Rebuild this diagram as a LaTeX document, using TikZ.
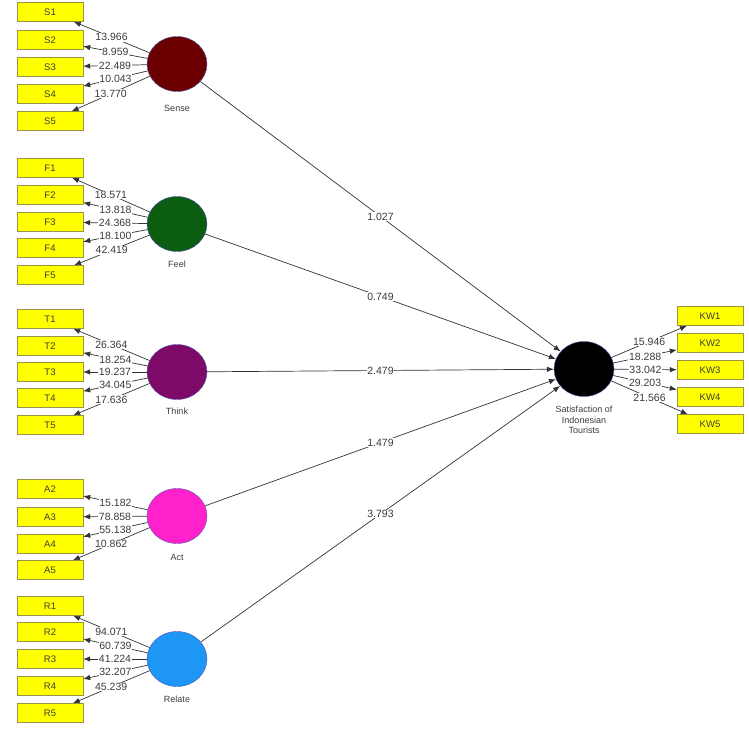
\documentclass[tikz,border=0pt]{standalone}
\usepackage{fontspec}
\setmainfont{Liberation Sans}
\usetikzlibrary{positioning, arrows.meta, shapes.geometric}
\definecolor{senseRed}{HTML}{6B0000}
\definecolor{feelGreen}{HTML}{0B5D12}
\definecolor{thinkPurple}{HTML}{7D0A66}
\definecolor{actPink}{HTML}{FF22CC}
\definecolor{relateBlue}{HTML}{1E96F5}
\definecolor{boxYellow}{HTML}{FFFF00}
\definecolor{txtGray}{HTML}{3C3C3C}

\begin{document}
\begin{tikzpicture}[
    x=1pt, y=-1pt,
    item/.style={rectangle, draw=yellow!55!black, fill=boxYellow, minimum width=66pt, minimum height=19pt, font=\fontsize{9.5}{10}\selectfont, text=txtGray, inner sep=1pt},
    latent/.style={ellipse, draw=blue!35!gray, line width=0.4pt, minimum width=60pt, minimum height=55pt, inner sep=0pt},
    caption/.style={font=\fontsize{9}{10.5}\selectfont, text=txtGray, align=center},
    coef/.style={font=\fontsize{10.5}{11}\selectfont, text=txtGray, fill=white, inner sep=0.6pt},
    arr/.style={-{Latex[length=7pt, width=5.5pt]}, line width=0.7pt, draw=black!80}
]
    \useasboundingbox (0,0) rectangle (749,731);

    % latent variables
    \node[latent, fill=senseRed] (sense) at (177,64) {};
    \node[latent, fill=feelGreen] (feel) at (177,224) {};
    \node[latent, fill=thinkPurple] (think) at (177,372) {};
    \node[latent, fill=actPink] (act) at (177,516) {};
    \node[latent, fill=relateBlue] (relate) at (177,659) {};
    \node[latent, fill=black] (sat) at (584,369) {};
    \node[caption] (senseLbl) at (177,108) {Sense};
    \node[caption] (feelLbl) at (177,264) {Feel};
    \node[caption] (thinkLbl) at (177,411) {Think};
    \node[caption] (actLbl) at (177,557) {Act};
    \node[caption] (relateLbl) at (177,699) {Relate};
    \node[caption] (satLbl) at (584,420) {Satisfaction of\\Indonesian\\Tourists};

    % Sense indicators
    \foreach \i/\y/\v in {1/12/13.966, 2/40/8.959, 3/67/22.489, 4/94/10.043, 5/121/13.770} {
        \node[item] (s\i) at (50,\y) {S\i};
        \draw[arr] (sense) -- node[coef] {\v} (s\i);
    }

    % Feel indicators
    \foreach \i/\y/\v in {1/168/18.571, 2/195/13.818, 3/222/24.368, 4/248/18.100, 5/275/42.419} {
        \node[item] (f\i) at (50,\y) {F\i};
        \draw[arr] (feel) -- node[coef] {\v} (f\i);
    }

    % Think indicators
    \foreach \i/\y/\v in {1/319/26.364, 2/346/18.254, 3/372/19.237, 4/398/34.045, 5/425/17.636} {
        \node[item] (t\i) at (50,\y) {T\i};
        \draw[arr] (think) -- node[coef] {\v} (t\i);
    }

    % Act indicators
    \foreach \i/\y/\v in {2/489/15.182, 3/517/78.858, 4/544/55.138, 5/570/10.862} {
        \node[item] (a\i) at (50,\y) {A\i};
        \draw[arr] (act) -- node[coef] {\v} (a\i);
    }

    % Relate indicators
    \foreach \i/\y/\v in {1/606/94.071, 2/632/60.739, 3/659/41.224, 4/686/32.207, 5/713/45.239} {
        \node[item] (r\i) at (50,\y) {R\i};
        \draw[arr] (relate) -- node[coef] {\v} (r\i);
    }

    % Satisfaction indicators
    \foreach \i/\y/\v in {1/316/15.946, 2/343/18.288, 3/370/33.042, 4/397/29.203, 5/424/21.566} {
        \node[item] (kw\i) at (710,\y) {KW\i};
        \draw[arr] (sat) -- node[coef] {\v} (kw\i);
    }

    % inner model
    \draw[arr] (sense) -- node[coef] {1.027} (sat);
    \draw[arr] (feel) -- node[coef] {0.749} (sat);
    \draw[arr] (think) -- node[coef] {2.479} (sat);
    \draw[arr] (act) -- node[coef] {1.479} (sat);
    \draw[arr] (relate) -- node[coef] {3.793} (sat);
\end{tikzpicture}
\end{document}
